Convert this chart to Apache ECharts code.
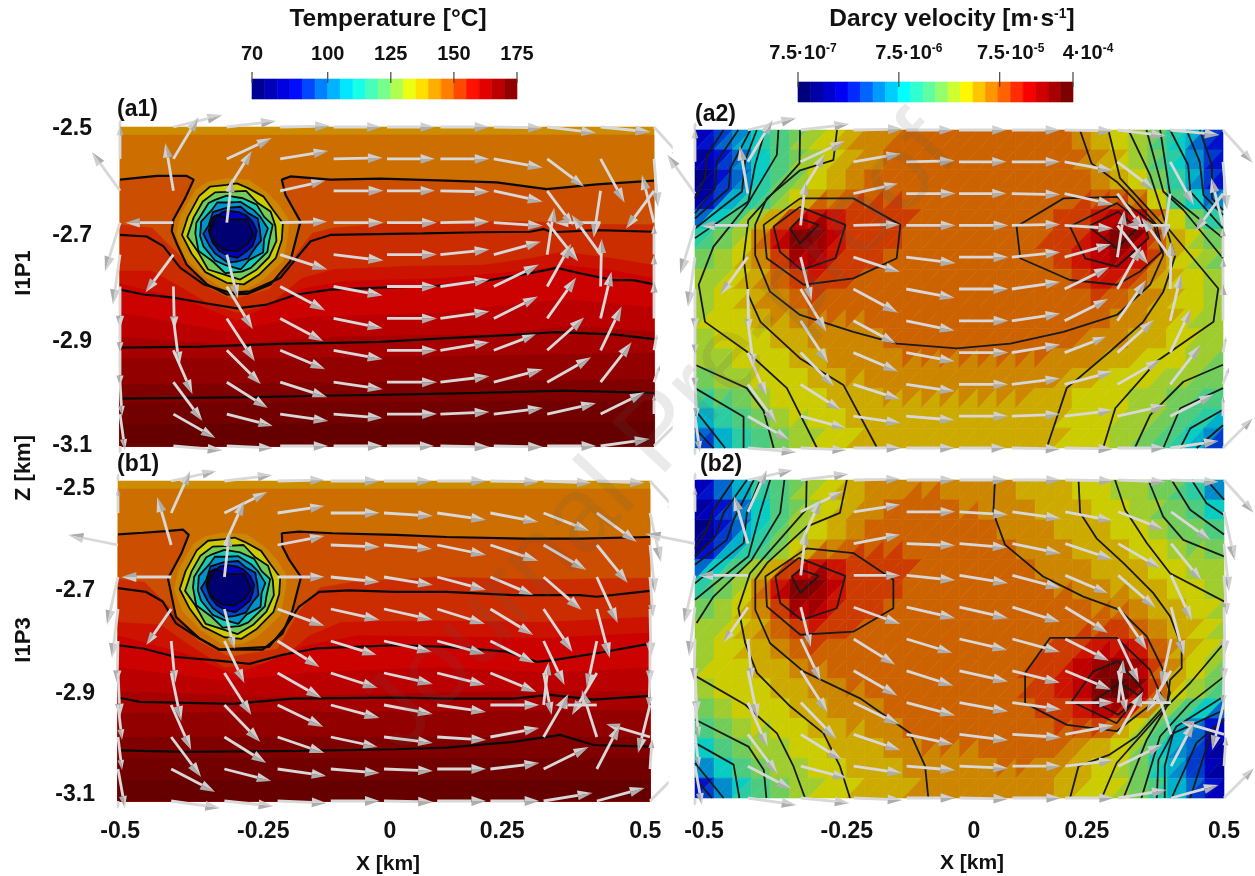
<!DOCTYPE html>
<html><head><meta charset="utf-8">
<style>html,body{margin:0;padding:0;background:#fff}#c{width:1255px;height:876px}</style>
<script src="https://cdn.jsdelivr.net/npm/echarts@6/dist/echarts.min.js"></script>
</head><body><div id="c"></div>
<script>
// ---------- scale data ----------
const colormapStops=[[0,'#00007f'],[.157,'#0000ff'],[.26,'#0080ff'],[.38,'#00ffff'],[.51,'#80ff80'],[.61,'#ffff00'],[.735,'#ff8000'],[.85,'#ff0000'],[1,'#7f0000']];
const tempLegendStarts=[70,75,80,85,90,95,100,105,110,115,120,125,130,135,140,145,150,155,160,165,170];
const tempLegendTicks=[70,100,125,150,175];
const darcyLegendEdges=[-6.125,-6.001,-5.877,-5.753,-5.629,-5.505,-5.381,-5.257,-5.133,-5.009,-4.885,-4.761,-4.637,-4.513,-4.389,-4.265,-4.141,-4.017,-3.893,-3.769,-3.645,-3.521,-3.398];
const darcyLegendTicks=[-6.125,-5.125,-4.125,-3.398];
const darcyLegendExp=['-7','-6','-5','-4'];
const darcyLegendMant=['7.5·10','7.5·10','7.5·10','4·10'];
const xTickText=['-0.5','-0.25','0','0.25','0.5'];
const zTickText=['-2.5','-2.7','-2.9','-3.1'];
const xLabelAtB1=[-.496,-.227,.011,.222,.491];
const xLabelAtB2=[-.483,-.213,.027,.241,.5];
const zLabelAtA1=[-2.504,-2.705,-2.904,-3.1];
const zLabelAtB1=[-2.515,-2.705,-2.898,-3.089];

// ---------- flow field: arrow components at each grid node (rows top to bottom) ----------
const fieldX=[-.5,-.4,-.3,-.2,-.1,0,.1,.2,.3,.4,.5];
const fieldZ=[-2.5,-2.56,-2.62,-2.68,-2.74,-2.8,-2.86,-2.92,-2.98,-3.04,-3.1];
const flowP1=[
[[0,8],[49,12],[49,6],[50,1],[48,0],[48,0],[49,0],[49,-1],[49,-6],[50,-5],[30,-33]],
[[0,34],[25,42],[45,21],[48,8],[49,1],[48,0],[49,0],[49,-9],[37,-28],[24,-44],[4,-48]],
[[-28,39],[-8,48],[25,40],[45,10],[50,0],[48,0],[49,-1],[49,-11],[26,-35],[-7,-47],[-28,-38]],
[[-15,-49],[-48,0],[5,44],[47,1],[50,0],[50,0],[49,1],[49,-3],[31,-39],[-46,0],[-12,48]],
[[-7,-50],[-28,-38],[11,-44],[47,-15],[50,-6],[50,0],[49,5],[47,13],[7,47],[-29,40],[0,30]],
[[0,-42],[1,-43],[26,-43],[45,-24],[49,-9],[50,0],[49,7],[45,22],[24,43],[1,48],[0,32]],
[[0,-34],[6,-48],[28,-43],[43,-23],[49,-10],[50,0],[49,7],[44,22],[29,41],[11,47],[0,37]],
[[0,-36],[19,-44],[34,-34],[45,-19],[49,-9],[50,0],[49,8],[42,16],[37,33],[21,44],[3,16]],
[[2,-34],[29,-39],[41,-26],[47,-15],[49,-7],[50,0],[49,6],[49,13],[44,25],[31,40],[6,17]],
[[5,-36],[42,-24],[46,-12],[48,-7],[49,-4],[50,0],[49,2],[49,6],[49,11],[44,22],[0,20]],
[[0,-8],[49,-4],[46,-2],[48,0],[49,0],[47,0],[49,-1],[49,-1],[49,0],[49,7],[30,30]]];
const flowP3=[
[[0,8],[45,10],[48,6],[47,1],[49,0],[48,0],[49,0],[49,-1],[48,-2],[48,-2],[30,-33]],
[[0,25],[19,42],[43,21],[47,7],[49,0],[49,-3],[49,-7],[48,-9],[46,-18],[40,-29],[11,-49]],
[[-50,10],[-14,48],[20,44],[47,9],[49,-2],[48,-4],[49,-10],[48,-16],[43,-25],[31,-38],[5,-48]],
[[-11,-48],[-50,0],[5,44],[47,0],[49,-5],[49,-8],[49,-13],[43,-18],[38,-33],[21,-46],[3,-40]],
[[-6,-49],[-25,-36],[10,-40],[47,-17],[49,-11],[49,-11],[48,-15],[43,-26],[29,-43],[13,-49],[1,-48]],
[[-1,-42],[4,-42],[20,-42],[42,-26],[46,-14],[48,-11],[48,-13],[44,-22],[21,-44],[-10,-47],[0,-42]],
[[2,-44],[10,-48],[27,-42],[44,-25],[47,-15],[49,-11],[48,-12],[46,-19],[8,-42],[-25,-42],[-1,-35]],
[[4,-35],[20,-45],[36,-37],[46,-22],[49,-13],[49,-9],[49,-7],[49,0],[5,43],[-42,0],[-12,-48]],
[[4,-33],[30,-40],[42,-26],[47,-16],[47,-10],[49,-6],[49,-3],[49,9],[25,43],[-15,47],[-44,13]],
[[7,-39],[44,-23],[47,-12],[49,-7],[49,-4],[49,-2],[49,0],[49,6],[45,22],[23,44],[2,30]],
[[0,-8],[49,-7],[49,-5],[49,-2],[49,0],[49,-1],[49,0],[49,0],[49,8],[48,13],[30,30]]];

// ---------- isotherms, km ----------
const isoP1=[
[[-.5,-2.599],[-.431,-2.592],[-.375,-2.592],[-.362,-2.599],[-.378,-2.634],[-.4,-2.674],[-.403,-2.696],[-.393,-2.721],[-.375,-2.759],[-.337,-2.796],[-.3,-2.815],[-.262,-2.814],[-.218,-2.796],[-.181,-2.752],[-.162,-2.678],[-.19,-2.628],[-.197,-2.599],[-.181,-2.593],[-.106,-2.599],[-.013,-2.597],[.112,-2.601],[.205,-2.604],[.299,-2.617],[.393,-2.608],[.5,-2.601]],
[[-.5,-2.703],[-.45,-2.706],[-.419,-2.724],[-.387,-2.765],[-.343,-2.796],[-.293,-2.812],[-.256,-2.809],[-.2,-2.784],[-.169,-2.746],[-.143,-2.715],[-.106,-2.703],[.068,-2.7],[.174,-2.698],[.268,-2.697],[.293,-2.692],[.309,-2.698],[.393,-2.694],[.5,-2.697]],
[[-.5,-2.806],[-.456,-2.815],[-.4,-2.821],[-.343,-2.831],[-.281,-2.841],[-.225,-2.834],[-.169,-2.815],[-.106,-2.806],[-.013,-2.802],[.081,-2.8],[.174,-2.791],[.268,-2.775],[.318,-2.765],[.361,-2.775],[.424,-2.788],[.461,-2.788],[.5,-2.796]],
[[-.5,-2.915],[-.35,-2.913],[-.2,-2.908],[-.1,-2.906],[-.013,-2.904],[.112,-2.897],[.237,-2.891],[.312,-2.886],[.424,-2.89],[.5,-2.899]],
[[-.5,-3.011],[-.25,-3.008],[-.1,-3.005],[-.013,-3.004],[.174,-3],[.331,-2.996],[.5,-3]]];
const isoP3=[
[[-.5,-2.6],[-.453,-2.597],[-.41,-2.594],[-.378,-2.591],[-.367,-2.601],[-.381,-2.636],[-.406,-2.683],[-.391,-2.755],[-.347,-2.795],[-.31,-2.816],[-.228,-2.816],[-.191,-2.786],[-.172,-2.742],[-.156,-2.68],[-.178,-2.648],[-.191,-2.623],[-.192,-2.598],[-.16,-2.595],[-.097,-2.598],[.022,-2.601],[.118,-2.605],[.262,-2.608],[.368,-2.608],[.5,-2.605]],
[[-.5,-2.701],[-.447,-2.708],[-.416,-2.726],[-.391,-2.767],[-.347,-2.795],[-.31,-2.816],[-.216,-2.811],[-.185,-2.773],[-.16,-2.736],[-.122,-2.708],[-.066,-2.705],[.022,-2.708],[.118,-2.708],[.243,-2.714],[.368,-2.714],[.4,-2.717],[.5,-2.706]],
[[-.5,-2.808],[-.453,-2.814],[-.391,-2.83],[-.322,-2.836],[-.253,-2.843],[-.191,-2.826],[-.128,-2.814],[.022,-2.808],[.118,-2.811],[.23,-2.82],[.287,-2.839],[.318,-2.836],[.4,-2.823],[.5,-2.805]],
[[-.5,-2.906],[-.459,-2.914],[-.284,-2.918],[-.172,-2.908],[.022,-2.906],[.118,-2.908],[.243,-2.908],[.312,-2.901],[.394,-2.91],[.5,-2.903]],
[[-.5,-3.005],[-.372,-3.008],[-.16,-3.006],[.022,-3.003],[.118,-3],[.243,-2.989],[.331,-2.976],[.394,-2.995],[.5,-2.998]]];

// ---------- cold plume rings, km ----------
const plumeHalo=[[-.301,-2.597],[-.258,-2.6],[-.223,-2.625],[-.202,-2.647],[-.183,-2.678],[-.188,-2.717],[-.195,-2.752],[-.237,-2.791],[-.265,-2.805],[-.301,-2.808],[-.343,-2.78],[-.378,-2.745],[-.394,-2.703],[-.386,-2.667],[-.358,-2.618],[-.336,-2.604]];
const plumeRings=[
[[-.3,-2.609],[-.281,-2.606],[-.262,-2.614],[-.231,-2.631],[-.214,-2.655],[-.195,-2.681],[-.197,-2.712],[-.208,-2.746],[-.24,-2.778],[-.268,-2.796],[-.3,-2.793],[-.34,-2.773],[-.366,-2.738],[-.384,-2.703],[-.373,-2.669],[-.352,-2.63],[-.331,-2.612]],
[[-.3,-2.622],[-.264,-2.62],[-.242,-2.643],[-.218,-2.659],[-.209,-2.686],[-.207,-2.714],[-.221,-2.745],[-.245,-2.769],[-.275,-2.787],[-.3,-2.779],[-.335,-2.768],[-.355,-2.733],[-.374,-2.706],[-.362,-2.67],[-.345,-2.64],[-.322,-2.623]],
[[-.3,-2.629],[-.27,-2.634],[-.244,-2.646],[-.23,-2.669],[-.214,-2.684],[-.221,-2.716],[-.224,-2.735],[-.255,-2.765],[-.272,-2.772],[-.303,-2.775],[-.326,-2.753],[-.353,-2.733],[-.359,-2.7],[-.357,-2.68],[-.334,-2.643],[-.322,-2.637]],
[[-.296,-2.642],[-.274,-2.641],[-.25,-2.656],[-.238,-2.668],[-.223,-2.691],[-.23,-2.71],[-.232,-2.736],[-.258,-2.75],[-.274,-2.768],[-.302,-2.76],[-.322,-2.751],[-.344,-2.724],[-.35,-2.705],[-.348,-2.678],[-.328,-2.656],[-.318,-2.642]],
[[-.3,-2.652],[-.274,-2.65],[-.26,-2.662],[-.242,-2.672],[-.238,-2.694],[-.236,-2.714],[-.246,-2.726],[-.26,-2.747],[-.28,-2.753],[-.298,-2.755],[-.322,-2.738],[-.332,-2.724],[-.344,-2.701],[-.334,-2.685],[-.326,-2.66],[-.31,-2.655]],
[[-.296,-2.658],[-.278,-2.66],[-.264,-2.666],[-.252,-2.678],[-.244,-2.695],[-.247,-2.71],[-.252,-2.724],[-.266,-2.736],[-.28,-2.746],[-.298,-2.742],[-.314,-2.733],[-.326,-2.718],[-.332,-2.702],[-.328,-2.686],[-.318,-2.668],[-.308,-2.66]],
[[-.318,-2.665],[-.293,-2.674],[-.262,-2.674],[-.25,-2.703],[-.262,-2.721],[-.281,-2.734],[-.306,-2.731],[-.325,-2.715],[-.334,-2.696],[-.328,-2.671]]];
const plumeHaloT=143;
const plumeRingT=[134,125,113,103,94,84,72];

// ---------- temperature bands: top edge of each colour band ----------
const bandT=[142,146,150,154,157,159,162,165,168,171,173,175];
const bandEdgesP1=[
[[-.5,-2.5],[.5,-2.5]],
[[-.5,-2.515],[.5,-2.515]],
isoP1[0],
[[-.5,-2.684],[-.44,-2.69],[-.39,-2.74],[-.34,-2.8],[-.29,-2.825],[-.22,-2.805],[-.17,-2.74],[-.14,-2.7],[-.1,-2.69],[.04,-2.678],[.27,-2.678],[.37,-2.683],[.5,-2.684]],
[[-.5,-2.771],[-.44,-2.771],[-.38,-2.805],[-.33,-2.835],[-.28,-2.85],[-.22,-2.835],[-.16,-2.785],[-.1,-2.768],[.04,-2.762],[.18,-2.76],[.27,-2.747],[.33,-2.735],[.42,-2.747],[.5,-2.76]],
[[-.5,-2.795],[-.38,-2.825],[-.28,-2.865],[-.16,-2.805],[-.08,-2.79],[.1,-2.785],[.27,-2.77],[.33,-2.76],[.42,-2.77],[.5,-2.785]],
[[-.5,-2.85],[-.3,-2.885],[-.15,-2.858],[.1,-2.85],[.27,-2.83],[.34,-2.825],[.5,-2.84]],
[[-.5,-2.895],[-.3,-2.91],[-.1,-2.895],[.2,-2.89],[.35,-2.875],[.5,-2.885]],
[[-.5,-2.935],[-.2,-2.935],[.2,-2.93],[.5,-2.925]],
[[-.5,-2.985],[.5,-2.975]],
[[-.5,-3.02],[.5,-3.015]],
[[-.5,-3.06],[.5,-3.055]]];
const bandEdgesP3=[
[[-.5,-2.5],[.5,-2.5]],
[[-.5,-2.515],[.5,-2.515]],
isoP3[0],
[[-.5,-2.684],[-.45,-2.69],[-.4,-2.74],[-.35,-2.8],[-.29,-2.83],[-.2,-2.815],[-.16,-2.745],[-.12,-2.7],[-.06,-2.69],[.1,-2.68],[.3,-2.685],[.5,-2.682]],
[[-.5,-2.765],[-.42,-2.77],[-.37,-2.805],[-.3,-2.85],[-.2,-2.84],[-.14,-2.79],[-.08,-2.765],[.1,-2.762],[.3,-2.765],[.5,-2.755]],
[[-.5,-2.79],[-.37,-2.825],[-.28,-2.865],[-.15,-2.81],[-.05,-2.79],[.3,-2.795],[.5,-2.785]],
[[-.5,-2.85],[-.3,-2.875],[-.15,-2.86],[.1,-2.85],[.32,-2.86],[.5,-2.85]],
[[-.5,-2.895],[-.2,-2.905],[.2,-2.895],[.5,-2.895]],
[[-.5,-2.935],[.5,-2.93]],
[[-.5,-2.98],[.5,-2.98]],
[[-.5,-3.02],[.5,-3.02]],
[[-.5,-3.06],[.5,-3.06]]];

// ---------- Darcy velocity mesh: colour-bar class read at each node ----------
const meshX=[-.5,-.464,-.429,-.393,-.357,-.321,-.286,-.25,-.214,-.179,-.143,-.107,-.071,-.036,0,.036,.071,.107,.143,.179,.214,.25,.286,.321,.357,.393,.429,.464,.5];
const meshZ=[-2.5,-2.5375,-2.575,-2.6125,-2.65,-2.6875,-2.725,-2.7625,-2.8,-2.8375,-2.875,-2.9125,-2.95,-2.9875,-3.025,-3.0625,-3.1];
const darcyP1=[
[3,5,7,9,11,12,13,14,15,16,16,17,17,17,17,17,17,17,17,17,17,15,14,13,12,11,9,6,3],
[2,4,6,8,10,12,13,14,15,16,16,17,17,17,17,17,17,17,17,17,17,16,15,14,12,10,8,5,3],
[1,3,5,8,10,12,13,14,15,16,17,17,17,17,17,17,17,17,17,17,17,16,15,14,13,11,9,6,3],
[0,3,6,8,11,12,14,15,16,17,17,17,17,17,17,17,17,17,17,17,17,17,16,15,13,11,9,6,3],
[2,7,10,11,12,15,17,18,18,18,18,18,17,17,17,17,17,17,17,17,18,18,19,20,18,13,12,10,7],
[9,11,12,15,18,21,23,21,19,18,18,18,17,17,17,17,17,17,17,18,18,19,21,23,20,16,14,13,11],
[11,12,13,15,18,21,23,20,18,18,18,17,17,17,17,17,17,17,17,18,18,20,22,22,19,16,14,13,12],
[12,13,14,15,16,18,20,19,18,18,17,17,17,17,17,17,17,17,17,17,18,19,20,19,18,15,14,13,12],
[13,13,14,15,16,17,18,18,17,17,17,17,17,17,17,17,17,17,17,17,17,18,18,17,16,15,14,14,13],
[13,14,14,15,16,16,17,17,17,17,17,17,17,17,17,17,17,17,17,17,17,17,17,16,16,15,14,13,13],
[13,14,14,14,15,15,16,16,16,16,17,17,17,17,17,17,17,17,17,17,17,17,16,16,15,15,14,13,13],
[13,13,14,14,14,15,15,16,16,16,16,17,17,17,17,17,17,17,17,17,16,16,16,15,15,14,14,13,12],
[12,13,13,14,14,14,15,15,16,16,16,16,16,16,16,16,16,16,16,16,16,15,15,14,14,14,13,13,12],
[11,12,13,13,14,14,14,15,15,15,16,16,16,16,16,16,16,16,16,15,15,14,14,14,13,13,12,12,11],
[9,10,11,12,13,14,14,14,15,15,15,15,15,15,15,15,15,15,15,15,14,14,14,13,13,12,11,11,10],
[6,8,10,11,12,13,13,14,14,15,15,15,15,15,15,15,15,15,15,15,14,14,14,13,13,12,11,9,6],
[3,5,8,10,11,12,13,14,14,15,15,15,15,15,15,15,15,15,15,15,14,14,13,12,11,10,8,6,4]];
const darcyP3=[
[3,5,8,10,11,12,13,14,15,15,16,16,16,16,16,16,16,15,15,15,14,14,13,13,12,12,11,8,4],
[2,4,6,8,10,12,13,14,15,16,16,17,17,17,16,16,16,16,15,15,15,14,14,13,13,12,11,10,7],
[1,3,5,8,10,12,13,14,15,16,17,17,17,17,17,17,16,16,16,15,15,15,14,14,13,12,12,11,10],
[0,3,6,9,11,13,14,15,16,17,17,17,17,17,17,17,17,16,16,16,15,15,15,14,14,13,12,12,12],
[3,7,10,11,12,15,17,18,18,18,18,18,17,17,17,17,17,17,16,16,16,15,15,15,14,14,13,13,12],
[9,11,12,15,18,21,23,21,19,18,18,18,17,17,17,17,17,17,17,16,16,16,15,15,15,14,14,13,13],
[11,12,13,15,18,21,23,20,18,18,18,17,17,17,17,17,17,17,17,17,17,16,16,16,15,15,14,14,13],
[12,13,14,15,16,18,20,19,18,18,17,17,17,17,17,17,17,17,17,17,17,17,17,17,16,15,15,14,13],
[13,13,14,15,16,17,18,18,17,17,17,17,17,17,17,17,17,17,17,17,18,18,19,18,17,16,15,14,13],
[13,14,14,15,15,16,17,17,17,17,17,17,17,17,17,17,17,17,18,18,19,20,21,21,18,16,15,14,13],
[13,14,14,14,15,15,16,16,17,17,17,17,17,17,17,17,17,17,18,18,20,21,23,23,20,16,14,13,11],
[12,13,14,14,14,15,15,16,16,16,17,17,17,17,17,17,17,17,18,18,19,21,23,22,19,15,13,12,10],
[11,12,13,14,14,14,15,15,16,16,16,17,17,17,17,17,17,17,17,18,18,19,19,16,13,11,9,6,3],
[10,11,12,13,13,14,14,15,15,15,16,16,17,17,17,17,17,17,17,17,17,16,15,14,12,9,7,4,2],
[7,9,11,12,13,13,14,14,15,15,15,16,16,16,16,16,17,17,17,16,15,15,14,13,11,8,6,4,1],
[4,7,9,11,12,13,13,14,14,15,15,15,16,16,16,16,16,16,16,16,15,14,14,13,11,9,6,4,2],
[2,5,8,10,11,12,13,14,14,15,15,15,16,16,16,16,16,16,16,15,15,14,14,13,12,10,7,5,3]];

// ---------- velocity contours, km ----------
const darcyLinesP1=[
[[-.446,-2.5],[-.477,-2.547],[-.481,-2.591],[-.5,-2.629]],
[[-.418,-2.5],[-.459,-2.56],[-.462,-2.61],[-.5,-2.657]],
[[-.395,-2.5],[-.433,-2.572],[-.436,-2.61],[-.5,-2.667]],
[[-.383,-2.5],[-.405,-2.557],[-.411,-2.616],[-.5,-2.686]],
[[-.367,-2.5],[-.386,-2.566],[-.399,-2.635],[-.5,-2.704]],
[[-.342,-2.5],[-.345,-2.547],[-.402,-2.642],[-.465,-2.72],[-.493,-2.792],[-.481,-2.862],[-.402,-2.918],[-.326,-2.987],[-.269,-3.1]],
[[-.301,-2.5],[-.302,-2.563],[-.399,-2.67],[-.408,-2.742],[-.399,-2.811],[-.376,-2.862],[-.301,-2.931],[-.219,-2.981],[-.155,-3.1]],
[[-.231,-2.5],[-.238,-2.557],[-.301,-2.576],[-.364,-2.629],[-.386,-2.679],[-.386,-2.736],[-.358,-2.805],[-.301,-2.849],[-.2,-2.881],[-.118,-2.903],[-.004,-2.912],[.097,-2.903],[.198,-2.881],[.299,-2.849],[.362,-2.792],[.387,-2.736],[.374,-2.679],[.33,-2.629],[.299,-2.598],[.251,-2.563],[.229,-2.5]],
[[-.5,-2.943],[-.402,-2.987],[-.37,-3.03],[-.351,-3.1]],
[[-.5,-2.987],[-.408,-3.041],[-.408,-3.1]],
[[-.5,-3.028],[-.443,-3.1]],
[[-.5,-3.063],[-.465,-3.1]],
[[.283,-2.5],[.305,-2.591],[.346,-2.635],[.393,-2.686],[.409,-2.739],[.387,-2.805],[.349,-2.862],[.286,-2.918],[.204,-2.987],[.166,-3.1]],
[[.321,-2.5],[.362,-2.585],[.38,-2.64],[.393,-2.682],[.491,-2.799],[.482,-2.862],[.374,-2.937],[.296,-3.025],[.273,-3.1]],
[[.355,-2.5],[.387,-2.616],[.425,-2.651],[.5,-2.742]],
[[.381,-2.5],[.4,-2.623],[.5,-2.704]],
[[.4,-2.5],[.434,-2.566],[.438,-2.616],[.5,-2.686]],
[[.431,-2.5],[.456,-2.56],[.463,-2.623],[.5,-2.66]],
[[.456,-2.5],[.479,-2.566],[.479,-2.629],[.5,-2.651]],
[[.5,-2.943],[.425,-2.975],[.362,-3.038],[.333,-3.1]],
[[.5,-2.987],[.419,-3.025],[.387,-3.1]],
[[.5,-3.028],[.438,-3.063],[.419,-3.1]],
[[.5,-3.057],[.45,-3.1]]];
const darcyLoopsP1=[
[[-.301,-2.629],[-.2,-2.629],[-.111,-2.679],[-.118,-2.742],[-.2,-2.78],[-.294,-2.792],[-.364,-2.742],[-.37,-2.679]],
[[-.301,-2.645],[-.215,-2.679],[-.234,-2.742],[-.298,-2.764],[-.339,-2.73],[-.351,-2.682]],
[[-.301,-2.667],[-.266,-2.679],[-.301,-2.714],[-.32,-2.686]],
[[.109,-2.682],[.198,-2.629],[.299,-2.626],[.368,-2.676],[.384,-2.73],[.343,-2.767],[.299,-2.792],[.21,-2.783],[.116,-2.742]],
[[.21,-2.682],[.299,-2.638],[.352,-2.679],[.359,-2.704],[.299,-2.758],[.239,-2.742]],
[[.245,-2.682],[.302,-2.654],[.337,-2.686],[.299,-2.723]]];
const darcyLinesP3=[
[[-.427,-2.5],[-.465,-2.556],[-.477,-2.594],[-.5,-2.629]],
[[-.402,-2.5],[-.446,-2.562],[-.462,-2.607],[-.5,-2.644]],
[[-.389,-2.5],[-.427,-2.575],[-.44,-2.613],[-.5,-2.66]],
[[-.377,-2.5],[-.402,-2.562],[-.408,-2.619],[-.5,-2.695]],
[[-.358,-2.5],[-.377,-2.562],[-.399,-2.644],[-.5,-2.726]],
[[-.331,-2.5],[-.339,-2.562],[-.393,-2.651],[-.465,-2.72],[-.497,-2.77]],
[[-.289,-2.5],[-.29,-2.556],[-.396,-2.676],[-.418,-2.742],[-.405,-2.808],[-.383,-2.864],[-.32,-2.927],[-.257,-2.978],[-.226,-3.04],[-.207,-3.1]],
[[-.213,-2.5],[-.226,-2.562],[-.289,-2.588],[-.364,-2.657],[-.386,-2.688],[-.386,-2.745],[-.358,-2.808],[-.295,-2.861],[-.188,-2.912],[-.093,-2.978],[-.065,-3.04],[-.059,-3.1]],
[[-.497,-2.871],[-.405,-2.924],[-.345,-2.978],[-.314,-3.04],[-.292,-3.1]],
[[-.5,-2.952],[-.399,-3.003],[-.37,-3.047],[-.365,-3.1]],
[[-.5,-2.996],[-.427,-3.037],[-.416,-3.1]],
[[-.5,-3.034],[-.446,-3.1]],
[[-.5,-3.062],[-.468,-3.1]],
[[.067,-2.5],[.064,-2.562],[.086,-2.622],[.158,-2.682],[.234,-2.72],[.303,-2.745],[.354,-2.795],[.385,-2.858],[.398,-2.902],[.392,-2.921],[.335,-2.984],[.284,-3.018],[.225,-3.04],[.209,-3.1]],
[[.225,-2.5],[.228,-2.562],[.259,-2.61],[.31,-2.657],[.366,-2.713],[.398,-2.757],[.42,-2.814],[.42,-2.855],[.398,-2.877],[.392,-2.927],[.297,-3.034],[.269,-3.1]],
[[.294,-2.5],[.313,-2.556],[.354,-2.619],[.398,-2.676],[.5,-2.729]],
[[.357,-2.5],[.385,-2.569],[.423,-2.613],[.5,-2.644]],
[[.401,-2.5],[.436,-2.556],[.5,-2.603]],
[[.439,-2.5],[.467,-2.544],[.5,-2.566]],
[[.467,-2.5],[.5,-2.537]],
[[.5,-2.808],[.436,-2.883],[.392,-2.927],[.354,-2.99],[.31,-3.1]],
[[.5,-2.871],[.436,-2.921],[.379,-2.984],[.344,-3.1]],
[[.5,-2.908],[.41,-2.965],[.376,-3.028],[.373,-3.1]],
[[.5,-2.934],[.404,-2.978],[.388,-3.04],[.388,-3.1]],
[[.5,-2.952],[.448,-2.996],[.401,-3.1]],
[[.48,-2.965],[.436,-3.1]]];
const darcyLoopsP3=[
[[-.289,-2.629],[-.2,-2.638],[-.125,-2.688],[-.125,-2.742],[-.2,-2.786],[-.301,-2.792],[-.364,-2.739],[-.367,-2.682]],
[[-.304,-2.647],[-.216,-2.681],[-.232,-2.742],[-.298,-2.764],[-.339,-2.732],[-.348,-2.682]],
[[-.301,-2.669],[-.266,-2.681],[-.301,-2.713],[-.317,-2.682]],
[[.124,-2.864],[.171,-2.798],[.297,-2.798],[.36,-2.858],[.382,-2.908],[.297,-2.974],[.203,-2.962],[.124,-2.921]],
[[.212,-2.918],[.253,-2.861],[.3,-2.842],[.347,-2.896],[.297,-2.959]],
[[.253,-2.918],[.303,-2.883],[.341,-2.908],[.3,-2.943]]];

// ---------- helpers ----------
const FONT='"Liberation Sans",Arial,sans-serif';
const hex=h=>[1,3,5].map(i=>parseInt(h.substr(i,2),16));
function cmap(f,shade){
  f=Math.max(0,Math.min(1,f));let k=0;
  while(k<colormapStops.length-2&&f>colormapStops[k+1][0])k++;
  const a=colormapStops[k],b=colormapStops[k+1],t=(f-a[0])/(b[0]-a[0]),A=hex(a[1]),B=hex(b[1]);
  return 'rgb('+A.map((v,i)=>Math.round((v+(B[i]-v)*t)*shade)).join(',')+')';
}
const PLOT_SHADE=.8,ARROW_KM=.001875,GUTTER_X=.535;
const tempColor=T=>cmap((T-70)/105,PLOT_SHADE);
const meshColor=L=>cmap(L/23,PLOT_SHADE);
const base={silent:true,animation:false};

function polySeries(ax,list,z){
  return Object.assign({type:'custom',xAxisIndex:ax,yAxisIndex:ax,coordinateSystem:'cartesian2d',clip:false,z,
    data:list.map((_,i)=>[i]),
    renderItem(p,api){const it=list[p.dataIndex];
      return {type:'polygon',shape:{points:it.pts.map(q=>api.coord(q))},style:{fill:it.fill,stroke:it.fill,lineWidth:.6}};}
  },base);
}
function lineSeries(ax,pts,width,color){
  return Object.assign({type:'line',xAxisIndex:ax,yAxisIndex:ax,data:pts,symbol:'none',showSymbol:false,clip:false,z:3,
    lineStyle:{color,width}},base);
}
function arrowSeries(ax,flow,cutAtGutter){
  const data=[];flow.forEach((row,j)=>row.forEach((v,i)=>data.push([fieldX[i],fieldZ[j],v[0],v[1]])));
  return Object.assign({type:'custom',xAxisIndex:ax,yAxisIndex:ax,coordinateSystem:'cartesian2d',clip:false,z:4,data,
    renderItem(p,api){
      const x=api.value(0),z=api.value(1),u=api.value(2),w=api.value(3);
      const a=api.coord([x,z]),b=api.coord([x+u*ARROW_KM,z+w*ARROW_KM]);
      const dx=b[0]-a[0],dy=b[1]-a[1],len=Math.hypot(dx,dy)||1,ux=dx/len,uy=dy/len;
      const hl=.3*len,hw=.1*len,c=[b[0]-ux*hl,b[1]-uy*hl];
      const L=[c[0]-uy*hw,c[1]+ux*hw],R=[c[0]+uy*hw,c[1]-ux*hw];
      const g={type:'group',children:[
        {type:'line',shape:{x1:a[0],y1:a[1],x2:c[0],y2:c[1]},style:{stroke:'#d8d8d8',lineWidth:2.8}},
        {type:'polygon',shape:{points:[b,L,c]},style:{fill:'#adadad'}},
        {type:'polygon',shape:{points:[b,R,c]},style:{fill:'#cfcfcf'}}]};
      if(cutAtGutter&&x===.5){const e=api.coord([GUTTER_X,z]);g.clipPath={type:'rect',shape:{x:0,y:0,width:e[0],height:876}};}
      return g;
    }},base);
}
function tempLayers(ax,edges){
  const list=edges.map((e,i)=>({fill:tempColor(bandT[i]),pts:e.concat([[.5,-3.1],[-.5,-3.1]])}));
  list.push({fill:tempColor(plumeHaloT),pts:plumeHalo});
  plumeRings.forEach((r,i)=>list.push({fill:tempColor(plumeRingT[i]),pts:r}));
  return polySeries(ax,list,1);
}
function meshLayer(ax,lv){
  const list=[];
  for(let j=0;j<meshZ.length-1;j++)for(let i=0;i<meshX.length-1;i++){
    const n=(a,b)=>[meshX[a],meshZ[b]],l=(a,b)=>lv[b][a];
    const tri=(ta,tb,tc)=>list.push({fill:meshColor(Math.round((l(...ta)+l(...tb)+l(...tc))/3)),pts:[n(...ta),n(...tb),n(...tc)]});
    tri([i,j],[i+1,j],[i,j+1]);tri([i+1,j],[i+1,j+1],[i,j+1]);
  }
  return polySeries(ax,list,1);
}
const closed=l=>l.concat([l[0]]);

// ---------- layout ----------
const grids=[
 {left:120,top:127,width:534,height:319},
 {left:695,top:130,width:528,height:318},
 {left:118,top:481,width:532,height:320},
 {left:695,top:480,width:529,height:318},
 {left:252,top:79,width:265,height:20},
 {left:798,top:82,width:275,height:20}];
const tickFont={fontFamily:FONT,fontWeight:'bold',fontSize:23,color:'#111'};
function xAx(i,at){
  const o={gridIndex:i,type:'value',min:-.5,max:.5,axisLine:{show:false},axisTick:{show:false},splitLine:{show:false},axisLabel:{show:false}};
  if(at)o.axisLabel=Object.assign({show:true,customValues:at,margin:i===2?19:22,formatter:v=>xTickText[at.indexOf(v)]},tickFont);
  return o;
}
function yAx(i,at,m){
  const o={gridIndex:i,type:'value',min:-3.1,max:-2.5,axisLine:{show:false},axisTick:{show:false},splitLine:{show:false},axisLabel:{show:false}};
  if(at)o.axisLabel=Object.assign({show:true,customValues:at,margin:m,padding:[4,0,0,0],formatter:v=>zTickText[at.indexOf(v)]},tickFont);
  return o;
}
const legendPad=[10,20,22,30];
const darcyRich={a:{fontFamily:FONT,fontWeight:'bold',fontSize:20,color:'#111'},s:{fontFamily:FONT,fontWeight:'bold',fontSize:12,color:'#111',padding:[0,0,9,0]}};
legendPad.forEach((w,i)=>darcyRich['p'+i]={width:w,fontSize:12});
const xAxis=[xAx(0),xAx(1),xAx(2,xLabelAtB1),xAx(3,xLabelAtB2),
 {gridIndex:4,type:'value',position:'top',min:70,max:175,axisLine:{show:false},splitLine:{show:false},axisTick:{show:false},
  axisLabel:{show:true,customValues:tempLegendTicks,margin:15,fontFamily:FONT,fontWeight:'bold',fontSize:20,color:'#111'}},
 {gridIndex:5,type:'value',position:'top',min:-6.125,max:-3.398,axisLine:{show:false},splitLine:{show:false},axisTick:{show:false},
  axisLabel:{show:true,customValues:darcyLegendTicks,margin:18,
   formatter:v=>{const i=darcyLegendTicks.indexOf(v);return '{p'+i+'| }{a|'+darcyLegendMant[i]+'}{s|'+darcyLegendExp[i]+'}';},rich:darcyRich}}];
const yAxis=[yAx(0,zLabelAtA1,28),yAx(1),yAx(2,zLabelAtB1,23),yAx(3),
 {gridIndex:4,type:'value',min:0,max:1,show:false},{gridIndex:5,type:'value',min:0,max:1,show:false}];

// ---------- series ----------
const series=[tempLayers(0,bandEdgesP1),tempLayers(2,bandEdgesP3),meshLayer(1,darcyP1),meshLayer(3,darcyP3)];
isoP1.forEach(l=>series.push(lineSeries(0,l,2.2,'#0a0a0a')));
isoP3.forEach(l=>series.push(lineSeries(2,l,2.2,'#0a0a0a')));
[0,2].forEach(ax=>plumeRings.forEach(r=>series.push(lineSeries(ax,closed(r),1.8,'#0a0a0a'))));
darcyLinesP1.forEach(l=>series.push(lineSeries(1,l,1.8,'#1a1a1a')));
darcyLoopsP1.forEach(l=>series.push(lineSeries(1,closed(l),1.8,'#1a1a1a')));
darcyLinesP3.forEach(l=>series.push(lineSeries(3,l,1.8,'#1a1a1a')));
darcyLoopsP3.forEach(l=>series.push(lineSeries(3,closed(l),1.8,'#1a1a1a')));
series.push(arrowSeries(0,flowP1,true),arrowSeries(1,flowP1,false),arrowSeries(2,flowP3,true),arrowSeries(3,flowP3,false));
const legT=tempLegendStarts.map(T=>({fill:cmap((T+2.5-70)/105,1),pts:[[T,1],[T+5,1],[T+5,0],[T,0]]}));
const legV=darcyLegendEdges.slice(0,-1).map((e,i)=>{const n=darcyLegendEdges[i+1];return {fill:cmap(i/21,1),pts:[[e,1],[n,1],[n,0],[e,0]]};});
series.push(polySeries(4,legT,1),polySeries(5,legV,1));
tempLegendTicks.forEach(v=>series.push(lineSeries(4,[[v,.8],[v,1.35]],1.2,'#444')));
darcyLegendTicks.forEach(v=>series.push(lineSeries(5,[[v,.75],[v,1.5]],1.2,'#444')));

// ---------- text ----------
const panelFont={fontFamily:FONT,fontWeight:'bold',fontSize:23,color:'#111'};
const panelTitle=(t,x,y)=>({text:t,left:x,top:y,padding:0,textStyle:panelFont});
const title=[
 {text:'Temperature [°C]',left:388,top:7,textAlign:'center',padding:0,textStyle:{fontFamily:FONT,fontWeight:'bold',fontSize:24.5,color:'#111'}},
 {text:'{a|Darcy velocity [m·s}{s|-1}{a|]}',left:952,top:7,textAlign:'center',padding:0,textStyle:{rich:{a:{fontFamily:FONT,fontWeight:'bold',fontSize:24.5,color:'#111'},s:{fontFamily:FONT,fontWeight:'bold',fontSize:14,color:'#111',padding:[0,0,10,0]}}}},
 panelTitle('(a1)',117,98),panelTitle('(a2)',695,103),panelTitle('(b1)',117,453),panelTitle('(b2)',700,453)];
const vText=(t,y)=>({type:'text',x:24,y,rotation:Math.PI/2,z:20,silent:true,style:{text:t,align:'center',verticalAlign:'middle',fontFamily:FONT,fontWeight:'bold',fontSize:22,fill:'#111'}});
const hText=(t,x,y)=>({type:'text',x,y,z:20,silent:true,style:{text:t,align:'center',verticalAlign:'middle',fontFamily:FONT,fontWeight:'bold',fontSize:21,fill:'#111'}});
const graphic=[vText('I1P1',273),vText('Z [km]',468),vText('I1P3',640),hText('X [km]',388,864),hText('X [km]',972,863),
 {type:'text',x:660,y:435,rotation:.82,z:30,silent:true,style:{text:'Journal Pre-proof',align:'center',verticalAlign:'middle',fontFamily:FONT,fontSize:106,fill:'rgba(90,90,90,0.13)'}}];

const chart=echarts.init(document.getElementById('c'),null,{renderer:'canvas'});
chart.setOption({animation:false,backgroundColor:'#fff',textStyle:{fontFamily:FONT},title,grid:grids,xAxis,yAxis,series,graphic});
</script></body></html>
